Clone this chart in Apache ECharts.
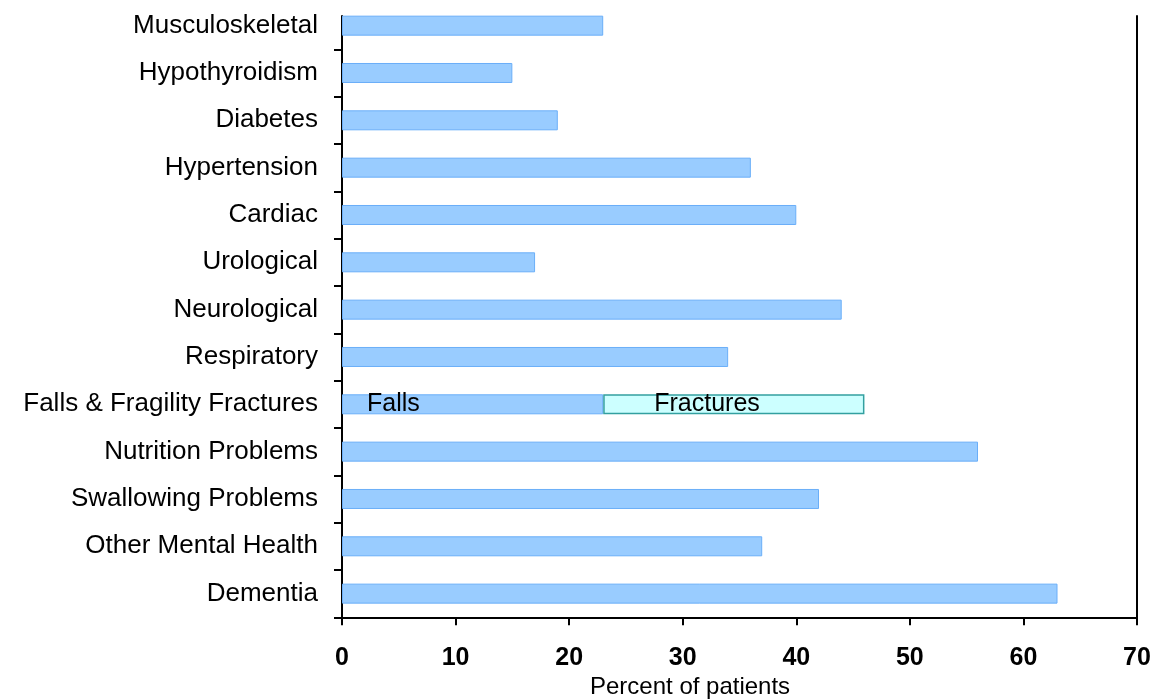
<!DOCTYPE html>
<html>
<head>
<meta charset="utf-8">
<script src="https://cdn.jsdelivr.net/npm/echarts@6/dist/echarts.min.js"></script>
<style>
  html, body { margin: 0; padding: 0; background: #fff; }
  #chart { width: 1156px; height: 700px; }
</style>
</head>
<body>
<div id="chart"></div>
<script>
// Conditions, listed top to bottom
var categories = [
  'Musculoskeletal', 'Hypothyroidism', 'Diabetes', 'Hypertension', 'Cardiac',
  'Urological', 'Neurological', 'Respiratory', 'Falls & Fragility Fractures',
  'Nutrition Problems', 'Swallowing Problems', 'Other Mental Health', 'Dementia'
];
// Percent of patients per condition (for the split row this is the "Falls" part)
var percentValues = [23, 15, 19, 36, 40, 17, 44, 34, 23, 56, 42, 37, 63];
// Stacked "Fractures" part, only present on the split row
var fractureValues = [null, null, null, null, null, null, null, null, 23, null, null, null, null];
var splitRow = 'Falls & Fragility Fractures';
var xTicks = [0, 10, 20, 30, 40, 50, 60, 70];

var FONT = 'Arial, "Liberation Sans", sans-serif';
var splitIdx = categories.indexOf(splitRow);

var mainData = percentValues.map(function (v, i) {
  if (i === splitIdx) {
    return {
      value: v,
      label: {
        show: true, formatter: 'Falls', position: 'insideLeft', distance: 25,
        color: '#000', fontSize: 25, fontFamily: FONT
      }
    };
  }
  return v;
});
var fractureData = fractureValues.map(function (v, i) {
  if (v == null) return '-';
  return {
    value: v,
    label: {
      show: true, formatter: 'Fractures', position: 'insideLeft', distance: 51,
      color: '#000', fontSize: 25, fontFamily: FONT
    }
  };
});

var chart = echarts.init(document.getElementById('chart'), null, { renderer: 'canvas' });

var option = {
  backgroundColor: '#fff',
  animation: false,
  textStyle: { fontFamily: FONT },
  grid: [
    // bar area: one full band per category
    { left: 342, right: 19, top: 2, height: 615.3, containLabel: false },
    // frame area: axis lines and x ticks
    { left: 342, right: 19, top: 16, height: 601.3, containLabel: false }
  ],
  xAxis: [
    { gridIndex: 0, type: 'value', min: 0, max: 70, interval: 10, show: false },
    {
      gridIndex: 1, type: 'value', min: xTicks[0], max: xTicks[xTicks.length - 1], interval: 10,
      axisLine: { show: true, lineStyle: { color: '#000', width: 2 } },
      axisTick: { show: true, length: 8, lineStyle: { color: '#000', width: 2 } },
      axisLabel: { color: '#000', fontSize: 25, fontWeight: 'bold', margin: 28, fontFamily: FONT },
      splitLine: { show: false }
    }
  ],
  yAxis: [
    {
      gridIndex: 0, type: 'category', data: categories, inverse: true,
      axisLine: { show: false },
      axisTick: {
        show: true, length: 8, lineStyle: { color: '#000', width: 2 },
        interval: function (index) { return index !== 0; }
      },
      axisLabel: { color: '#000', fontSize: 26, margin: 24, fontFamily: FONT },
      splitLine: { show: false }
    },
    {
      gridIndex: 1, type: 'value', min: 0, max: 1, position: 'left',
      axisLine: { show: true, lineStyle: { color: '#000', width: 2 } },
      axisTick: { show: false }, axisLabel: { show: false }, splitLine: { show: false }
    },
    {
      gridIndex: 1, type: 'value', min: 0, max: 1, position: 'right',
      axisLine: { show: true, lineStyle: { color: '#000', width: 2 } },
      axisTick: { show: false }, axisLabel: { show: false }, splitLine: { show: false }
    }
  ],
  graphic: [
    {
      type: 'text', left: 590, top: 675,
      style: { text: 'Percent of patients', fill: '#000', fontSize: 24, fontFamily: FONT }
    }
  ],
  series: [
    {
      name: 'Percent', type: 'bar', xAxisIndex: 0, yAxisIndex: 0, stack: 'total',
      barWidth: 20, data: mainData,
      itemStyle: { color: '#99CCFF', borderColor: '#6AAEF8', borderWidth: 1 }
    },
    {
      name: 'Fractures', type: 'bar', xAxisIndex: 0, yAxisIndex: 0, stack: 'total',
      barWidth: 20, data: fractureData,
      itemStyle: { color: '#CCFFFF', borderColor: '#33A0A0', borderWidth: 1.5 }
    }
  ]
};

chart.setOption(option);
</script>
</body>
</html>
